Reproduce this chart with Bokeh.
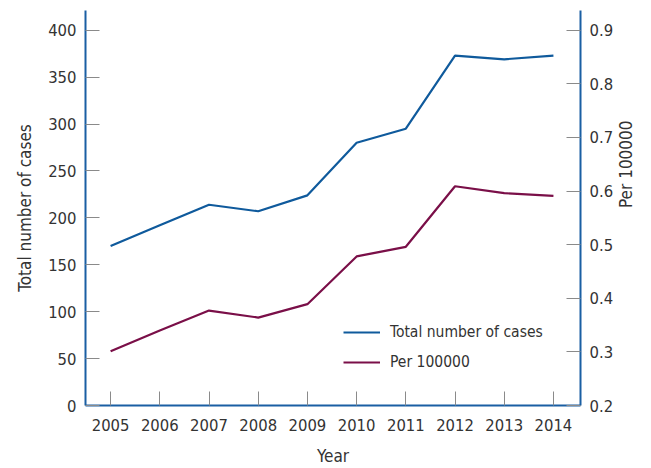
import math
from bokeh.plotting import figure
from bokeh.models import Range1d, LinearAxis, FixedTicker, Legend, LegendItem
from bokeh.embed import file_html
from bokeh.resources import INLINE

years = [2005, 2006, 2007, 2008, 2009, 2010, 2011, 2012, 2013, 2014]
total_cases = [170, 192, 214, 207, 224, 280, 295, 373, 369, 373]
per_100000 = [0.301, 0.340, 0.377, 0.364, 0.389, 0.478, 0.496, 0.609, 0.596, 0.591]
left_ticks = [0, 50, 100, 150, 200, 250, 300, 350, 400]
right_ticks = [0.2, 0.3, 0.4, 0.5, 0.6, 0.7, 0.8, 0.9]

FONT = "'DejaVu Sans Condensed', Roboto, sans-serif"
BLUE = "#0f5a9c"
PURPLE = "#7a0f48"
AXIS = "#1a5fa3"
TICK = "#8a8a8a"
TEXT = "#333333"

p = figure(width=651, height=468, output_backend="svg", toolbar_location=None,
           x_range=Range1d(2004.49, 2014.55), y_range=Range1d(0, 421),
           min_border_left=85, min_border_right=71, min_border_top=10, min_border_bottom=62)
p.extra_y_ranges = {"right": Range1d(0.2, 0.2 + 421 * 0.7 / 400)}
p.outline_line_color = None
p.xgrid.visible = False
p.ygrid.visible = False

r1 = p.line(years, total_cases, line_color=BLUE, line_width=2.2)
r2 = p.line(years, per_100000, line_color=PURPLE, line_width=2.2, y_range_name="right")

raxis = LinearAxis(y_range_name="right")
p.add_layout(raxis, "right")

p.xaxis.ticker = FixedTicker(ticks=years)
p.yaxis[0].ticker = FixedTicker(ticks=left_ticks)
raxis.ticker = FixedTicker(ticks=right_ticks)
p.xaxis.axis_label = "Year"
p.yaxis[0].axis_label = "Total number of cases"
raxis.axis_label = "Per 100000"

for ax in [p.xaxis[0], p.yaxis[0], raxis]:
    ax.axis_line_color = AXIS
    ax.axis_line_width = 2
    ax.major_tick_line_color = TICK
    ax.major_tick_line_width = 1
    ax.major_tick_in = 14
    ax.major_tick_out = 0
    ax.minor_tick_line_color = None
    ax.major_label_text_font = FONT
    ax.major_label_text_font_size = "16.5px"
    ax.major_label_text_color = TEXT
    ax.axis_label_text_font = FONT
    ax.axis_label_text_font_size = "17px"
    ax.axis_label_text_font_style = "normal"
    ax.axis_label_text_color = TEXT
    ax.major_label_standoff = 9
    ax.axis_label_standoff = 10
p.xaxis[0].major_label_standoff = 13
p.xaxis[0].axis_label_standoff = 12

if "axis_label_orientation" in raxis.properties():
    raxis.axis_label_orientation = math.pi / 2

legend = Legend(items=[LegendItem(label="Total number of cases", renderers=[r1]),
                       LegendItem(label="Per 100000", renderers=[r2])],
                location=(258, 33), padding=0, margin=0, spacing=10,
                glyph_width=37, glyph_height=20, label_height=20, label_standoff=10,
                border_line_color=None, background_fill_alpha=0,
                label_text_font=FONT, label_text_font_size="15.5px", label_text_color=TEXT)
p.add_layout(legend)

open("out.html", "w").write(file_html(p, INLINE))
